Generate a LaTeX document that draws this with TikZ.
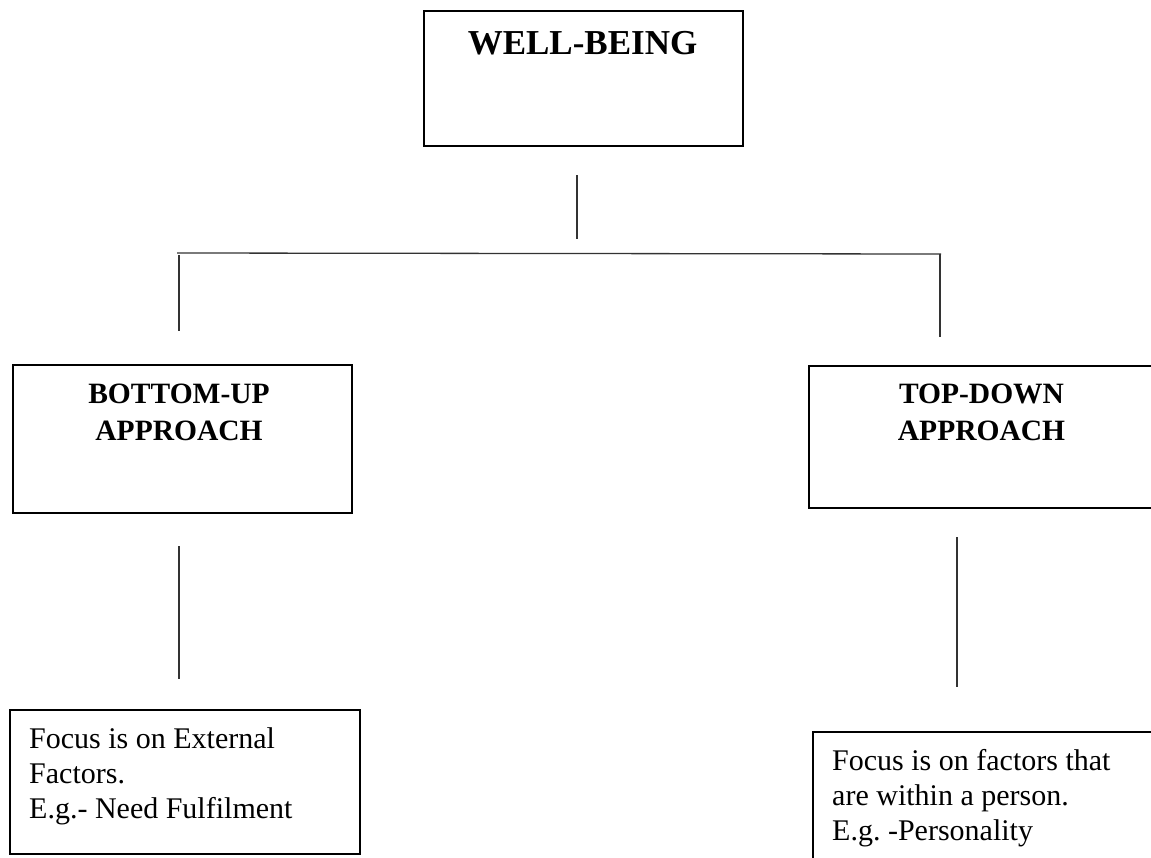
\documentclass[tikz,border=0pt]{standalone}
\usepackage{fontspec}
\setmainfont{Liberation Serif}
\frenchspacing
\begin{document}
\begin{tikzpicture}
    [
        x=1pt, y=-1pt,
        box/.style={draw, line width=2.2pt, anchor=north west, inner sep=0pt,},
        title/.style={font=\bfseries\fontsize{35}{40}\selectfont, anchor=base, inner sep=0pt,},
        heading/.style={font=\bfseries\fontsize{29.5}{37}\selectfont, align=center, anchor=north, inner sep=0pt,},
        note/.style={font=\fontsize{30}{35}\selectfont, align=left, anchor=north west, inner sep=0pt,},
        link/.style={line width=1.3pt, black!80,},
    ]

    \useasboundingbox (0,0) rectangle (1151,857);
    \clip (0,0) rectangle (1151,857);

    % boxes
    \node (wb) at (423,10)   [box, minimum width=319, minimum height=135] {};
    \node (bu) at (12,364)   [box, minimum width=339, minimum height=148] {};
    \node (td) at (808,365)  [box, minimum width=347, minimum height=142] {};
    \node (ext) at (9,709)   [box, minimum width=350, minimum height=144] {};
    \node (int) at (812,731) [box, minimum width=350, minimum height=144] {};

    % texts
    \node (wb-title) at (582.5,54) [title] {WELL-BEING};
    \node (bu-title) at (179,384)  [heading] {BOTTOM-UP\\APPROACH};
    \node (td-title) at (981.5,384) [heading] {TOP-DOWN\\APPROACH};
    \node (ext-note) at (29,727.5) [note] {Focus is on External\\Factors.\\E.g.- Need Fulfilment};
    \node (int-note) at (832,749.5) [note] {Focus is on factors that\\are within a person.\\E.g. -Personality};

    % connector ends
    \coordinate (wb-a) at (577,175);
    \coordinate (wb-b) at (577,239);
    \coordinate (bar-l) at (177,253);
    \coordinate (bar-r) at (941,254);
    \coordinate (bu-a) at (179,255);
    \coordinate (bu-b) at (179,331);
    \coordinate (td-a) at (940,254);
    \coordinate (td-b) at (940,337);
    \coordinate (ext-a) at (179,546);
    \coordinate (ext-b) at (179,679);
    \coordinate (int-a) at (957,537);
    \coordinate (int-b) at (957,687);

    \draw [link] (wb-a) -- (wb-b);
    \draw [link] (bar-l) -- (bar-r);
    \draw [link] (bu-a) -- (bu-b);
    \draw [link] (td-a) -- (td-b);
    \draw [link] (ext-a) -- (ext-b);
    \draw [link] (int-a) -- (int-b);
\end{tikzpicture}
\end{document}
